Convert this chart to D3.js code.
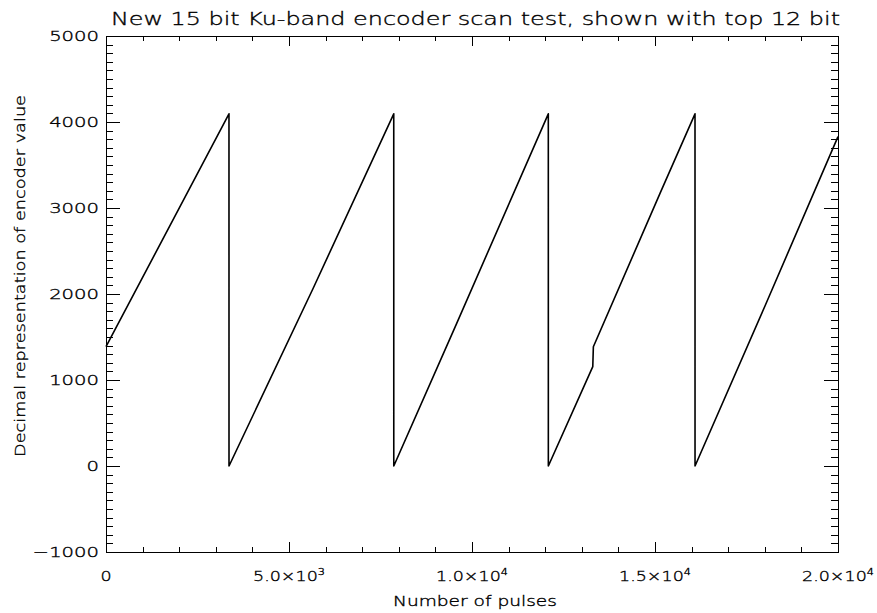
<!DOCTYPE html>
<html>
<head>
<meta charset="utf-8">
<script src="https://cdn.jsdelivr.net/npm/d3@7"></script>
<style>
  html, body { margin: 0; padding: 0; background: #fff; }
  svg { display: block; }
  text { font-family: "DejaVu Sans", sans-serif; font-weight: 200; fill: #000; stroke: #000; stroke-width: 0.35; }
</style>
</head>
<body>
<svg id="chart" width="877" height="613"></svg>
<script>
// ---- data ----
const pulses  = [0, 3360, 3361, 5664, 7862, 7863, 9582, 12085, 12086, 13300, 13316, 15137, 16093, 16094, 18005, 20000];
const encoder = [1387, 4095, 0, 2070, 4095, 0, 1659, 4095, 0, 1155, 1387, 3170, 4095, 0, 1860, 3830];

const xMajorTicks = [0, 5000, 10000, 15000, 20000];
const xTickMantissa = ["0", "5.0×10", "1.0×10", "1.5×10", "2.0×10"];
const xTickExponent = ["", "3", "4", "4", "4"];
const yMajorTicks = [-1000, 0, 1000, 2000, 3000, 4000, 5000];
const yTickLabels = ["−1000", "0", "1000", "2000", "3000", "4000", "5000"];

const titleText = "New 15 bit Ku-band encoder scan test, shown with top 12 bit";
const xTitle = "Number of pulses";
const yTitle = "Decimal representation of encoder value";

// ---- layout ----
const L = 106, R = 838, T = 36, B = 552;
const svg = d3.select("#chart");

const x = d3.scaleLinear().domain([0, 20000]).range([L, R]);
const y = d3.scaleLinear().domain([-1000, 5000]).range([B, T]);

// frame
svg.append("rect").attr("x", L + 0.5).attr("y", T + 0.5).attr("width", R - L).attr("height", B - T)
  .attr("fill", "none").attr("stroke", "#000").attr("stroke-width", 1).attr("shape-rendering", "crispEdges");

// ticks
const xMinor = d3.range(0, 20001, 1000);
const yMinor = d3.range(-1000, 5001, 100);
const tickG = svg.append("g").attr("stroke", "#000").attr("stroke-width", 1).attr("shape-rendering", "crispEdges");
xMinor.forEach(v => {
  const major = xMajorTicks.includes(v);
  const len = major ? 10 : 5;
  const px = Math.round(x(v)) + 0.5;
  tickG.append("line").attr("x1", px).attr("x2", px).attr("y1", B).attr("y2", B - len);
  tickG.append("line").attr("x1", px).attr("x2", px).attr("y1", T).attr("y2", T + len);
});
yMinor.forEach(v => {
  const major = yMajorTicks.includes(v);
  const len = major ? 14 : 7;
  const py = Math.round(y(v)) + 0.5;
  tickG.append("line").attr("x1", L).attr("x2", L + len).attr("y1", py).attr("y2", py);
  tickG.append("line").attr("x1", R).attr("x2", R - len).attr("y1", py).attr("y2", py);
});

// y tick labels
yMajorTicks.forEach((v, i) => {
  svg.append("g").attr("transform", `translate(99,${y(v) + 5}) scale(1.4,1)`)
    .append("text").attr("text-anchor", "end").attr("font-size", 14).text(yTickLabels[i]);
});

// x tick labels
xMajorTicks.forEach((v, i) => {
  const t = svg.append("g").attr("transform", `translate(${x(v)},581) scale(1.25,1)`)
    .append("text").attr("text-anchor", "middle").attr("font-size", 14);
  t.append("tspan").text(xTickMantissa[i]);
  if (xTickExponent[i]) t.append("tspan").attr("font-size", 9).attr("dy", -6).text(xTickExponent[i]);
});

// titles
svg.append("text").attr("x", 111).attr("y", 25).attr("font-size", 18)
  .attr("textLength", 729).attr("lengthAdjust", "spacingAndGlyphs").text(titleText);
svg.append("text").attr("x", 393).attr("y", 606).attr("font-size", 14)
  .attr("textLength", 164).attr("lengthAdjust", "spacingAndGlyphs").text(xTitle);
svg.append("text").attr("transform", "translate(25,457) rotate(-90)").attr("font-size", 14)
  .attr("textLength", 362).attr("lengthAdjust", "spacingAndGlyphs").text(yTitle);

// data line
const line = d3.line().x((d, i) => x(pulses[i])).y(d => y(d));
svg.append("path").datum(encoder).attr("d", line)
  .attr("fill", "none").attr("stroke", "#000").attr("stroke-width", 1.6).attr("stroke-linejoin", "round");
</script>
</body>
</html>
